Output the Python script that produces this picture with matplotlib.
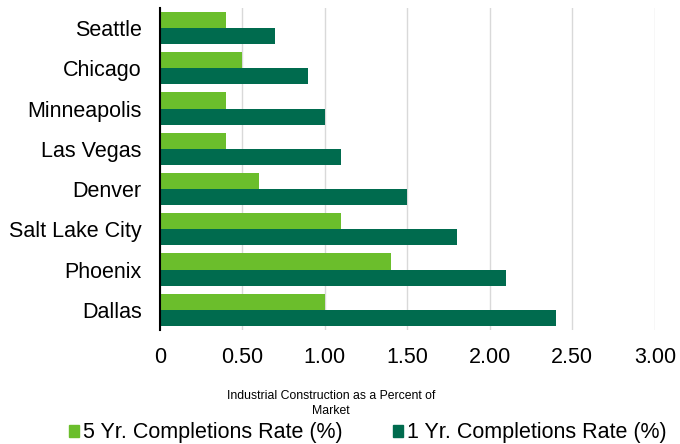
import numpy as np
import matplotlib.pyplot as plt
from matplotlib.patches import Patch

plt.rcParams['font.family'] = ['Liberation Sans', 'DejaVu Sans']

cities = ['Seattle', 'Chicago', 'Minneapolis', 'Las Vegas', 'Denver',
          'Salt Lake City', 'Phoenix', 'Dallas']
rate_5yr = [0.4, 0.5, 0.4, 0.4, 0.6, 1.1, 1.4, 1.0]
rate_1yr = [0.7, 0.9, 1.0, 1.1, 1.5, 1.8, 2.1, 2.4]
xticks = [0, 0.5, 1.0, 1.5, 2.0, 2.5, 3.0]
xtick_labels = ['0', '0.50', '1.00', '1.50', '2.00', '2.50', '3.00']

light = '#6bbe2c'
dark = '#006b4e'

fig = plt.figure(figsize=(6.8, 4.44), dpi=100)
ax = fig.add_axes([0.235, 0.257, 0.728, 0.725])

y = np.arange(len(cities))
h = 0.4
ax.barh(y - h / 2, rate_5yr, height=h, color=light)
ax.barh(y + h / 2, rate_1yr, height=h, color=dark)

ax.set_ylim(len(cities) - 0.5, -0.5)
ax.set_xlim(0, 3.0)
ax.set_yticks(y)
ax.set_yticklabels(cities, fontsize=15.5)
ax.set_xticks(xticks)
ax.set_xticklabels(xtick_labels, fontsize=15.5)
ax.tick_params(length=0)
ax.tick_params(axis='y', pad=13)
ax.tick_params(axis='x', pad=12)

ax.grid(axis='x', color='#d9d9d9', linewidth=1)
ax.set_axisbelow(True)
for s in ['top', 'right', 'bottom']:
    ax.spines[s].set_visible(False)
ax.spines['left'].set_color('black')
ax.spines['left'].set_linewidth(1.5)

fig.text(0.487, 0.091, 'Industrial Construction as a Percent of\nMarket',
         ha='center', va='center', fontsize=8.8, linespacing=1.25)

handles = [Patch(color=light), Patch(color=dark)]
fig.legend(handles, ['5 Yr. Completions Rate (%)', '1 Yr. Completions Rate (%)'],
           loc='center', bbox_to_anchor=(0.541, 0.025), ncol=2, frameon=False,
           fontsize=15.5, handlelength=0.47, handleheight=0.47, handletextpad=0.2,
           columnspacing=2.3, borderpad=0, borderaxespad=0)

fig.savefig('out.png', dpi=100)
